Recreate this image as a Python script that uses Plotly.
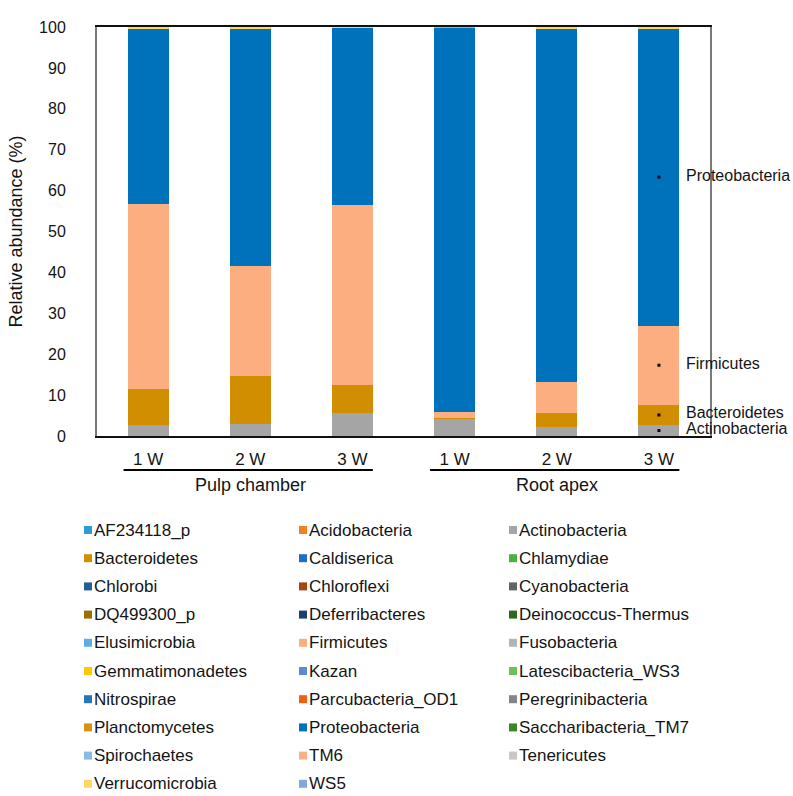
import plotly.graph_objects as go

# Samples (x categories) and their display labels
samples = ["PC-1W", "PC-2W", "PC-3W", "RA-1W", "RA-2W", "RA-3W"]
week_labels = ["1 W", "2 W", "3 W", "1 W", "2 W", "3 W"]
groups = ["Pulp chamber", "Root apex"]

# Relative abundance (%) of the phyla that show up in the bars
actinobacteria = [2.7, 2.9, 5.7, 4.2, 2.3, 2.7]
bacteroidetes = [8.9, 11.8, 6.8, 0.3, 3.3, 4.9]
firmicutes = [45.1, 26.9, 44.0, 1.4, 7.6, 19.4]
proteobacteria = [42.8, 58.1, 43.3, 93.9, 86.5, 72.6]
spirochaetes = [0.0, 0.0, 0.0, 0.2, 0.0, 0.0]
verrucomicrobia = [0.5, 0.3, 0.2, 0.0, 0.3, 0.4]

# All phyla in the legend, with their colours
phyla = [
    "AF234118_p", "Acidobacteria", "Actinobacteria",
    "Bacteroidetes", "Caldiserica", "Chlamydiae",
    "Chlorobi", "Chloroflexi", "Cyanobacteria",
    "DQ499300_p", "Deferribacteres", "Deinococcus-Thermus",
    "Elusimicrobia", "Firmicutes", "Fusobacteria",
    "Gemmatimonadetes", "Kazan", "Latescibacteria_WS3",
    "Nitrospirae", "Parcubacteria_OD1", "Peregrinibacteria",
    "Planctomycetes", "Proteobacteria", "Saccharibacteria_TM7",
    "Spirochaetes", "TM6", "Tenericutes",
    "Verrucomicrobia", "WS5",
]
colors = [
    "#2E9BD6", "#F47F20", "#A5A5A5",
    "#D08E00", "#1F6FC5", "#4CAF3F",
    "#1F5E96", "#A5460F", "#636363",
    "#9C7000", "#1B3F70", "#2D6A1F",
    "#5DADE2", "#FDAE80", "#B4B4B4",
    "#FFC800", "#5B8BD0", "#70BF55",
    "#2577B7", "#F0600E", "#858585",
    "#D4940F", "#0072BB", "#3B862A",
    "#86BDE6", "#FFAF87", "#C8C8C8",
    "#FFD863", "#7FA8DE",
]
color_of = dict(zip(phyla, colors))

# Stacking order (bottom to top)
stack = [
    ("Actinobacteria", actinobacteria),
    ("Bacteroidetes", bacteroidetes),
    ("Firmicutes", firmicutes),
    ("Proteobacteria", proteobacteria),
    ("Spirochaetes", spirochaetes),
    ("Verrucomicrobia", verrucomicrobia),
]
labelled = ["Actinobacteria", "Bacteroidetes", "Firmicutes", "Proteobacteria"]

FONT = "Liberation Sans, Arial, sans-serif"
TXT = "#141414"

fig = go.Figure()
for name, vals in stack:
    fig.add_trace(go.Bar(
        x=samples, y=vals, name=name,
        marker=dict(color=color_of[name], line=dict(width=0)),
        width=0.4, showlegend=False, hoverinfo="x+y+name",
    ))

# Segment labels on the last bar
last = len(samples) - 1
base = 0.0
mids = {}
for name, vals in stack:
    mids[name] = base + vals[last] / 2
    base += vals[last]

fig.add_trace(go.Scatter(
    x=[samples[last]] * len(labelled), y=[mids[n] for n in labelled],
    mode="markers", marker=dict(symbol="square", size=3, color="black"),
    showlegend=False, hoverinfo="skip",
))
annotations = []
for n in labelled:
    annotations.append(dict(
        x=samples[last], y=mids[n], xref="x", yref="y", text=n,
        showarrow=False, xanchor="left", yanchor="middle", xshift=25,
        yshift=2,
        font=dict(family=FONT, size=16, color=TXT),
    ))

# Group brackets beneath the week labels
shapes = []
group_members = [(0, 2), (3, 5)]
for g, (a, b) in zip(groups, group_members):
    shapes.append(dict(
        type="line", xref="x", yref="paper",
        x0=a - 0.24, x1=b + 0.2, y0=-0.083, y1=-0.083,
        line=dict(color="black", width=2),
    ))
    annotations.append(dict(
        x=(a + b) / 2, y=-0.12, xref="x", yref="paper", text=g,
        showarrow=False, xanchor="center", yanchor="middle",
        font=dict(family=FONT, size=18, color=TXT),
    ))

# Legend laid out in three columns, row by row
PL, PR, PT, PB = 97, 710, 27, 436
pw, ph = PR - PL, PB - PT
col_sq = [88, 303, 513]
row0, row_step = 530, 28.2
for i, (name, col) in enumerate(zip(phyla, colors)):
    r, c = divmod(i, 3)
    cx = (col_sq[c] - PL) / pw
    cy = (PB - (row0 + r * row_step)) / ph
    hx, hy = 4 / pw, 4 / ph
    shapes.append(dict(
        type="rect", xref="paper", yref="paper",
        x0=cx - hx, x1=cx + hx, y0=cy - hy, y1=cy + hy,
        fillcolor=col, line=dict(width=0),
    ))
    annotations.append(dict(
        x=cx + hx, y=cy, xref="paper", yref="paper", text=name,
        showarrow=False, xanchor="left", yanchor="middle",
        font=dict(family=FONT, size=17, color=TXT),
    ))

fig.update_layout(
    width=793, height=796,
    margin=dict(l=PL, r=793 - PR, t=PT, b=796 - PB, pad=0),
    paper_bgcolor="white", plot_bgcolor="white",
    barmode="stack", bargap=0.6,
    showlegend=False,
    font=dict(family=FONT, color=TXT),
    shapes=shapes, annotations=annotations,
    xaxis=dict(
        type="category", categoryorder="array", categoryarray=samples,
        tickmode="array", tickvals=samples, ticktext=week_labels,
        tickfont=dict(family=FONT, size=17, color=TXT),
        showline=True, linecolor="#111111", linewidth=2, mirror=True,
        ticks="", ticklabelstandoff=7, showgrid=False, zeroline=False,
        range=[-0.5, 5.5],
    ),
    yaxis=dict(
        range=[0, 100], tickmode="linear", tick0=0, dtick=10,
        tickfont=dict(family=FONT, size=16, color=TXT),
        showline=True, linecolor="#7a7a7a", linewidth=2, mirror=True,
        ticks="", ticklabelstandoff=26, showgrid=False, zeroline=False,
        title=dict(text="Relative abundance (%)", standoff=12,
                   font=dict(family=FONT, size=18, color=TXT)),
    ),
)

fig.write_html("out.html")
